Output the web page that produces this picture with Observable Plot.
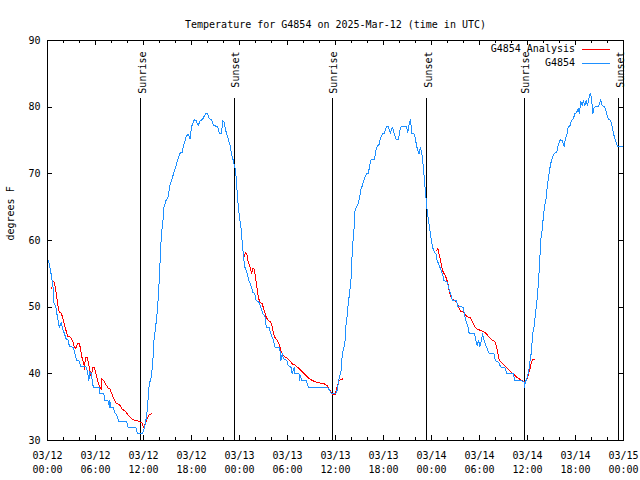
<!DOCTYPE html>
<html><head><meta charset="utf-8">
<script src="https://cdn.jsdelivr.net/npm/d3@7"></script>
<script src="https://cdn.jsdelivr.net/npm/@observablehq/plot@0.6"></script>
<style>
body{margin:0;background:#fff}
#wrap{position:relative;width:640px;height:480px}
#legend{position:absolute;left:0;top:0;width:640px;height:0;font:10px "DejaVu Sans Mono","Liberation Mono",monospace;color:#000}
.lbl{position:absolute;white-space:pre;text-align:right;line-height:12px;height:12px}
.sw{position:absolute;width:28px;height:1px}
</style>
</head><body><div id="wrap"><div id="chart"></div><div id="legend"></div></div>
<script>
const titleText = "Temperature for G4854 on 2025-Mar-12 (time in UTC)";
const yLabelText = "degrees F";
const startTime = "2025-03-12T00:00:00Z";
const endTime = "2025-03-15T00:00:00Z";
const yTicks = [30, 40, 50, 60, 70, 80, 90];
const sunLabels = ["Sunrise", "Sunset", "Sunrise", "Sunset", "Sunrise", "Sunset"];
const sunHours = [11.68, 23.33, 35.60, 47.37, 59.60, 71.41];
const seriesNames = ["G4854 Analysis", "G4854"];
const seriesColors = ["#ff0000", "#1e90ff"];

// [hours since 03/12 00:00 UTC, degrees F]
const obsReadings = [
[0.13,57],[0.38,55.5],[0.54,54.3],[0.71,52.8],[0.79,50.7],[1.04,50],[1.21,48.75],[1.47,47],[1.72,47.7],[1.88,46.8],
[2.13,46],[2.29,45.3],[2.63,45],[2.72,44.1],[3.22,44],[3.38,43.25],[3.63,42],[3.97,41.9],[4.13,41.1],[4.80,41.1],
[4.97,40.5],[5.17,39],[5.26,40.3],[5.47,40],[5.72,38],[6.47,38],[6.55,37],[7.05,37],[7.14,36],[7.64,35.9],
[7.73,35],[7.80,36],[7.89,35],[8.23,35],[8.39,34.25],[8.80,33.5],[8.84,32.9],[9.89,32.9],[10.06,32],[11.06,31.9],
[11.23,31.1],[11.90,31.1],[12.15,32],[12.40,33.75],[12.56,36],[12.74,38.75],[12.90,39],[13.15,41.5],[13.31,45],[13.56,47.5],
[13.74,49.5],[13.90,52.5],[14.06,56.5],[14.24,61],[14.40,62.5],[14.56,65],[14.81,66],[15.06,66.5],[15.31,68.25],[15.56,69.25],
[15.82,70.25],[16.07,71.25],[16.32,72.25],[16.57,73.1],[16.82,73.2],[17.07,74.5],[17.32,75.5],[17.57,76],[17.82,75.25],[17.99,77],
[18.32,78.1],[18.57,78],[18.82,77.25],[19.07,77.9],[19.41,78.25],[19.75,79],[20.00,79],[20.25,78.25],[20.50,78.1],[20.75,77.25],
[21.25,77.1],[21.50,76.1],[21.75,76.1],[21.91,78],[22.08,77.7],[22.33,76.25],[22.58,75.25],[22.83,74.25],[23.00,73],[23.17,72.25],
[23.42,71],[23.58,69.5],[23.75,66.5],[23.92,64.25],[24.08,62.75],[24.26,61.25],[24.33,59.75],[24.51,57.5],[24.67,56],[24.92,55.25],
[25.17,54],[25.42,53.25],[25.67,52.25],[25.92,52],[26.08,51],[26.42,50.75],[26.67,50],[26.92,49],[27.17,48.75],[27.34,47],
[27.76,47],[27.84,46.25],[28.09,45.5],[28.26,45],[28.43,44],[29.01,44],[29.18,42],[29.34,43],[29.52,42.25],[29.93,42],
[30.09,41.25],[30.43,41],[30.59,40],[30.84,41],[30.93,40],[31.43,40],[31.52,39],[31.60,39.75],[31.77,39],[32.35,39],
[32.60,38],[35.02,38],[35.27,37.5],[35.53,37],[36.02,37],[36.19,37.5],[36.44,39.25],[36.69,40.5],[36.85,43],[37.03,43.75],
[37.19,45],[37.28,47],[37.44,48.5],[37.61,50.75],[37.78,52.25],[37.94,54.25],[38.03,56.5],[38.11,59],[38.28,61],[38.36,62.75],
[38.44,64.5],[38.61,65],[38.86,65.6],[39.03,66.5],[39.20,67.75],[39.36,68.25],[39.61,69.25],[39.86,70],[40.11,70.1],[40.28,71.25],
[40.45,72.1],[40.86,72.1],[41.04,73.5],[41.20,74.1],[41.45,74.4],[41.61,75.25],[41.86,76],[42.11,76.1],[42.36,77.1],[42.61,77.1],
[42.86,76.1],[43.11,77],[43.29,76.25],[43.61,75.1],[43.86,75.1],[44.04,76.5],[44.20,77.1],[44.87,77.1],[45.04,76.25],[45.21,77.5],
[45.37,78.1],[45.54,76.1],[45.79,76],[45.96,75.5],[46.12,74.25],[46.29,73.5],[46.46,73],[46.62,74],[46.80,73],[46.96,71.25],
[47.12,69],[47.30,66.5],[47.46,64.5],[47.62,63],[47.80,61.5],[47.96,60.25],[48.12,59],[48.37,58.25],[48.55,58],[48.71,57],
[48.96,56.25],[49.13,55.75],[49.37,55],[49.55,54],[49.96,53.75],[50.13,53],[50.38,52],[50.63,51],[51.13,51],[51.30,50.1],
[51.97,50],[52.13,48.75],[52.31,48],[52.56,47],[52.72,46],[53.38,46],[53.56,45],[53.72,44.25],[53.88,45],[54.06,44.1],
[54.22,45],[54.38,46],[54.63,44.75],[54.89,44],[55.22,43],[55.81,43],[55.97,42],[56.39,41.75],[56.56,41.25],[56.73,41],
[57.14,41],[57.39,40.1],[58.23,40.1],[58.39,39],[59.23,39],[59.57,38.75],[59.64,38],[59.73,38.75],[59.98,39.5],[60.23,41],
[60.39,42.75],[60.48,43],[60.64,46],[60.82,47],[60.99,49],[61.15,50.5],[61.32,53],[61.49,56],[61.65,60],[61.82,61.5],
[61.98,63.5],[62.15,65.25],[62.32,66.25],[62.49,68.25],[62.65,69.75],[62.82,71],[62.99,72],[63.15,72.6],[63.40,73.1],[63.65,73.25],
[63.82,74.25],[64.07,75.1],[64.32,75],[64.57,74.1],[64.74,75.25],[64.90,75.75],[65.08,77],[65.33,77.25],[65.49,78],[65.74,78.25],
[65.90,79],[66.15,79.25],[66.33,79.75],[66.49,79],[66.66,80.9],[66.83,80.25],[66.99,81],[67.16,80.25],[67.33,81],[67.50,80.25],
[67.66,81.25],[67.84,82.1],[68.00,81.5],[68.16,79],[68.33,80],[68.83,80.1],[69.00,80.5],[69.16,81.1],[69.34,80.25],[69.67,80],
[69.84,79.25],[70.09,78.25],[70.41,78],[70.59,77],[70.75,76],[71.00,75],[71.25,74.1],[71.75,74.1],[72.00,74]
];

const analysisNight1 = [
[0.54,52.75],[0.63,53.75],[0.79,53.9],[0.96,53],[1.13,51.75],[1.29,50.25],[1.47,49.25],[1.72,49.1],[1.88,48.5],[2.13,47.25],
[2.38,46.25],[2.54,45.6],[2.88,45.5],[3.13,45],[3.29,44.25],[3.54,43.75],[3.72,44.5],[3.97,44.6],[4.13,43.75],[4.30,42.5],
[4.55,41.5],[4.63,40.6],[4.72,42.4],[4.97,42.4],[5.13,41.5],[5.30,40.5],[5.47,39.5],[5.64,41],[5.89,40.9],[6.05,40],
[6.22,39.25],[6.39,38.5],[6.55,38],[6.72,37.6],[6.80,39.25],[7.05,38.9],[7.30,38.4],[7.55,37.9],[7.80,37.75],[8.05,37],
[8.30,36.25],[8.55,35.6],[8.98,35.4],[9.30,34.75],[9.73,34.4],[9.98,34],[10.31,33.5],[10.64,33.1],[11.23,33],[11.56,32.75],
[11.81,32.6],[11.98,32],[12.23,32.5],[12.48,33.4],[12.74,33.9],[12.99,34]
];
const analysisNight2 = [
[24.58,57.5],[24.76,58.25],[24.92,58],[25.08,56.75],[25.33,56],[25.51,55],[25.67,55.75],[25.83,55.75],[26.01,54.5],[26.17,53],
[26.33,51.75],[26.51,50.75],[26.84,50.5],[27.09,49.5],[27.34,48.5],[27.59,48],[27.92,47.75],[28.09,47],[28.26,46],[28.51,45.25],
[28.76,45],[29.01,44.25],[29.18,43.5],[29.34,43],[29.59,42.6],[29.93,42.4],[30.27,42],[30.59,41.5],[31.02,41.25],[31.34,40.9],
[31.77,40.4],[32.18,39.9],[32.60,39.4],[33.10,39],[33.60,38.75],[34.10,38.6],[34.60,38.5],[34.94,38.25],[35.10,37.9],[35.35,37.5],
[35.60,36.9],[35.94,36.9],[36.19,38],[36.44,39],[36.94,39.25]
];
const analysisNight3 = [
[48.63,58.5],[48.80,58.85],[48.96,57.9],[49.13,57],[49.30,56],[49.46,55.25],[49.71,54.75],[49.88,54.25],[50.05,53.5],[50.21,52.5],
[50.38,51.75],[50.55,51.25],[50.88,51],[51.13,50.75],[51.38,50.1],[51.63,49.4],[51.97,49.25],[52.31,48.75],[52.56,48.5],[52.89,48.4],
[53.14,47.75],[53.38,47.1],[53.64,46.75],[53.97,46.6],[54.31,46.4],[54.64,46.25],[54.89,46],[55.14,45.6],[55.39,45.25],[55.64,45],
[55.89,44.9],[56.14,44],[56.31,43],[56.48,42],[56.73,41.75],[56.98,41.4],[57.31,41],[57.64,40.6],[57.98,40.25],[58.31,39.9],
[58.64,39.5],[58.98,39.25],[59.32,39],[59.64,38.75],[59.90,39],[60.07,39.75],[60.32,40.75],[60.48,41.75],[60.64,42.1],[60.89,42.1]
];

const t0 = new Date(startTime).getTime();
const toDate = h => new Date(t0 + h * 3600e3);
const obs = obsReadings.map(([h, t]) => ({time: toDate(h), temp: t}));
const analysis = [analysisNight1, analysisNight2, analysisNight3].flatMap((night, i) =>
  night.map(([h, t]) => ({time: toDate(h), temp: t, night: i})));
const sun = sunHours.map((h, i) => ({time: toDate(h), label: sunLabels[i]}));

const W = 640, H = 480, mL = 47, mR = 17, mT = 40, mB = 40;
const frameW = W - mL - mR, frameH = H - mT - mB;
const domain = [new Date(startTime), new Date(endTime)];
const majorX = d3.utcHour.every(6).range(domain[0], new Date(domain[1].getTime() + 1));
const minorX = d3.utcHour.every(2).range(domain[0], new Date(domain[1].getTime() + 1));
const font = "DejaVu Sans Mono, Liberation Mono, monospace";
const crisp = {shapeRendering: "crispEdges"};

const chart = Plot.plot({
  width: W, height: H,
  marginLeft: mL, marginRight: mR, marginTop: mT, marginBottom: mB,
  style: {fontFamily: font, fontSize: "10px", background: "#fff", color: "#000"},
  x: {type: "utc", domain},
  y: {domain: [30, 90]},
  marks: [
    Plot.axisX({ticks: majorX, tickSize: 0, tickPadding: 8, tickFormat: d3.utcFormat("%m/%d\n%H:%M"), lineHeight: 1.45, label: null, fontSize: 10}),
    Plot.axisY({ticks: yTicks, tickSize: 0, tickPadding: 7, label: null, fontSize: 10}),
    // inward ticks (bottom/top, left/right)
    Plot.tickX(majorX, {x: d => d, insetTop: frameH - 5, ...crisp}),
    Plot.tickX(majorX, {x: d => d, insetBottom: frameH - 5, ...crisp}),
    Plot.tickX(minorX, {x: d => d, insetTop: frameH - 3, ...crisp}),
    Plot.tickX(minorX, {x: d => d, insetBottom: frameH - 3, ...crisp}),
    Plot.tickY(yTicks, {y: d => d, insetRight: frameW - 5, ...crisp}),
    Plot.tickY(yTicks, {y: d => d, insetLeft: frameW - 5, ...crisp}),
    Plot.ruleX(sun, {x: "time", insetTop: 58, stroke: "#000", ...crisp}),
    Plot.text(sun, {x: "time", text: "label", frameAnchor: "top", dy: 11, dx: -2, rotate: -90, textAnchor: "end", fontSize: 10}),
    Plot.line(analysis, {x: "time", y: "temp", z: "night", stroke: seriesColors[0], strokeWidth: 1, ...crisp}),
    Plot.line(obs, {x: "time", y: "temp", stroke: seriesColors[1], strokeWidth: 1, ...crisp}),
    Plot.frame({stroke: "#000", ...crisp}),
    Plot.text([titleText], {frameAnchor: "top", dy: -20, fontSize: 10}),
    Plot.text([yLabelText], {frameAnchor: "left", dx: -37, rotate: -90, fontSize: 10})
  ]
});
document.getElementById("chart").appendChild(chart);

// legend overlay, top-right inside the frame
const legend = document.getElementById("legend");
seriesNames.forEach((name, i) => {
  const rowY = mT + 9 + Math.round(i * 13.5);   // pixel row of the swatch
  const lbl = document.createElement("div");
  lbl.className = "lbl";
  lbl.textContent = name;
  lbl.style.right = (W - (W - mR - 48)) + "px";
  lbl.style.top = (rowY - 6) + "px";
  legend.appendChild(lbl);
  const sw = document.createElement("div");
  sw.className = "sw";
  sw.style.left = (W - mR - 41) + "px";
  sw.style.top = rowY + "px";
  sw.style.background = seriesColors[i];
  legend.appendChild(sw);
});
</script>
</body></html>
